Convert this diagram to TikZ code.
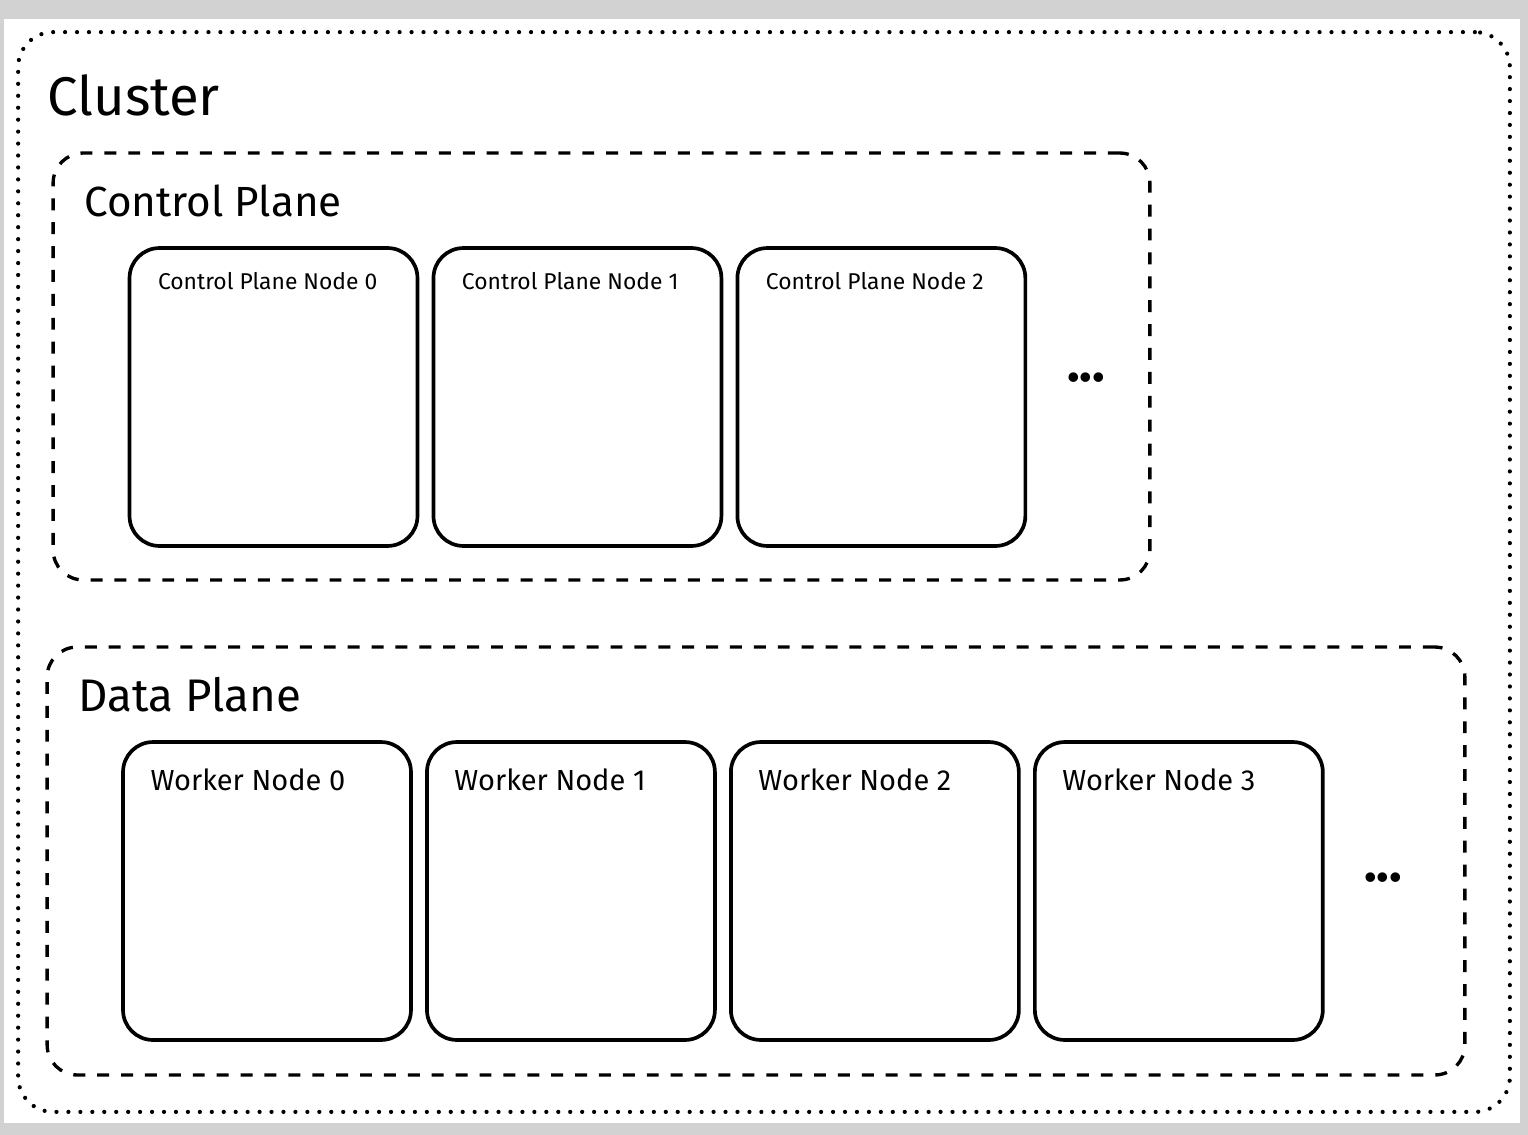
\documentclass[tikz,border=0pt]{standalone}
\usepackage{fontspec}
\setmainfont{Fira Sans}
\usetikzlibrary{positioning}

\tikzstyle{cluster} = [rectangle, draw, line width=2.4pt, line cap=round, dash pattern=on 0pt off 6.8pt, rounded corners=0.7cm, inner sep=0pt]
\tikzstyle{plane} = [rectangle, draw, line width=1.9pt, dash pattern=on 6.8pt off 6.8pt, rounded corners=0.6cm, inner sep=0pt]
\tikzstyle{block} = [rectangle, draw, line width=2.1pt, rounded corners=0.6cm, minimum width=5.76cm, minimum height=5.96cm, inner sep=0pt]
\tikzstyle{title} = [font=\fontsize{31}{34}\selectfont, anchor=west, inner sep=0pt]
\tikzstyle{header} = [font=\fontsize{24}{28}\selectfont, anchor=west, inner sep=0pt]
\tikzstyle{caption} = [font=\fontsize{13}{15}\selectfont, anchor=west, inner sep=0pt]
\tikzstyle{wcaption} = [font=\fontsize{16.5}{19}\selectfont, anchor=west, inner sep=0pt]
\tikzstyle{more} = [font=\fontsize{30}{30}\selectfont\bfseries, inner sep=0pt]

\begin{document}
\begin{tikzpicture}[x=0.02cm, y=-0.02cm, node distance=6.08cm]
    % Background
    \fill [gray!35] (0,0) rectangle (1528,1135);
    \useasboundingbox (0,0) rectangle (1528,1135);
    \fill [white] (4,19) rectangle (1520,1123);

    % Place containers
    \node [cluster, minimum width=29.84cm, minimum height=21.6cm] (cluster) at (764,572) {};
    \node [title] (clustertitle) at (47,95) {Cluster};

    \node [plane, minimum width=21.94cm, minimum height=8.54cm] (control) at (601.5,366.5) {};
    \node [header] (controltitle) at (84,201) {Control Plane};

    \node [plane, minimum width=28.36cm, minimum height=8.56cm] (data) at (756,861) {};
    \node [header, font=\fontsize{26}{30}\selectfont] (datatitle) at (78,695) {Data Plane};

    % Control plane nodes
    \node [block] (cp0) at (273.5,397) {};
    \node [block, right of=cp0] (cp1) {};
    \node [block, right of=cp1] (cp2) {};
    \node [caption] (cp0label) at ([xshift=0.6cm, yshift=-0.7cm]cp0.north west) {Control Plane Node 0};
    \node [caption] (cp1label) at ([xshift=0.6cm, yshift=-0.7cm]cp1.north west) {Control Plane Node 1};
    \node [caption] (cp2label) at ([xshift=0.6cm, yshift=-0.7cm]cp2.north west) {Control Plane Node 2};
    \node [more] (cpmore) at (1086,378) {...};

    % Worker nodes
    \node [block] (w0) at (267,891) {};
    \node [block, right of=w0] (w1) {};
    \node [block, right of=w1] (w2) {};
    \node [block, right of=w2] (w3) {};
    \node [wcaption] (w0label) at ([xshift=0.58cm, yshift=-0.8cm]w0.north west) {Worker Node 0};
    \node [wcaption] (w1label) at ([xshift=0.58cm, yshift=-0.8cm]w1.north west) {Worker Node 1};
    \node [wcaption] (w2label) at ([xshift=0.58cm, yshift=-0.8cm]w2.north west) {Worker Node 2};
    \node [wcaption] (w3label) at ([xshift=0.58cm, yshift=-0.8cm]w3.north west) {Worker Node 3};
    \node [more] (wmore) at (1383,878) {...};

\end{tikzpicture}
\end{document}
